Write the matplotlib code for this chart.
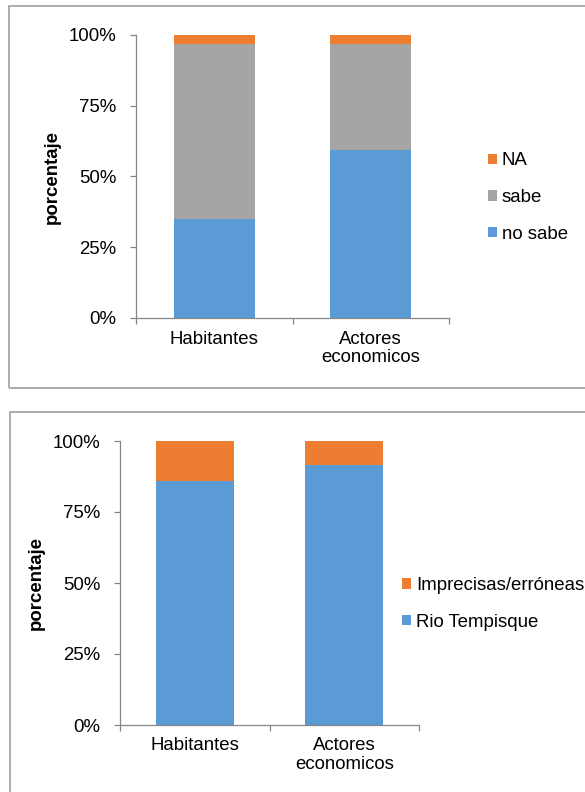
import numpy as np
import matplotlib
matplotlib.use("Agg")
import matplotlib.pyplot as plt
from matplotlib.patches import Rectangle
from matplotlib.ticker import PercentFormatter, FixedLocator

plt.rcParams['font.family'] = ['Liberation Sans', 'DejaVu Sans']

# data (percent)
categories = ['Habitantes', 'Actores\neconomicos']
no_sabe = [35.1, 59.4]
sabe = [61.8, 37.3]
na = [3.1, 3.3]

rio_tempisque = [85.9, 91.6]
imprecisas = [14.1, 8.4]

blue = '#5B9BD5'
orange = '#ED7D31'
gray = '#A5A5A5'
axis_col = '#868686'
fs = 13.4

W, H = 585, 792
fig = plt.figure(figsize=(W / 100, H / 100), dpi=100)

# outer boxes around each chart (no right edge visible in the reference)
def px_rect(x0, y0, x1, y1):
    return Rectangle((x0 / W, 1 - y1 / H), (x1 - x0) / W, (y1 - y0) / H,
                     transform=fig.transFigure, fill=False,
                     edgecolor='#A6A6A6', linewidth=1.3, clip_on=False)

fig.patches.append(px_rect(9, 6, 620, 388))
fig.patches.append(px_rect(10, 412, 620, 830))


def style_axes(ax):
    ax.set_xlim(-0.5, 1.5)
    ax.set_ylim(0, 100)
    for side in ['top', 'right']:
        ax.spines[side].set_visible(False)
    for side in ['left', 'bottom']:
        ax.spines[side].set_color(axis_col)
        ax.spines[side].set_linewidth(0.9)
    ax.yaxis.set_major_locator(FixedLocator([0, 25, 50, 75, 100]))
    ax.yaxis.set_major_formatter(PercentFormatter(decimals=0))
    ax.tick_params(axis='y', direction='out', length=4, width=0.9,
                   color=axis_col, labelsize=fs, pad=10)
    x = np.arange(len(categories))
    ax.set_xticks(x)
    ax.set_xticklabels(categories, fontsize=fs, linespacing=1.1)
    ax.tick_params(axis='x', which='major', length=0, pad=9)
    ax.xaxis.set_minor_locator(FixedLocator([-0.5, 0.5, 1.5]))
    ax.tick_params(axis='x', which='minor', direction='out', length=4,
                   width=0.9, color=axis_col)
    ax.set_ylabel('porcentaje', fontsize=fs, fontweight='bold', labelpad=6)


# top chart
ax1 = fig.add_axes([136 / W, 1 - 318 / H, 313 / W, 283 / H])
x = np.arange(len(categories))
bw = 0.52
b1 = ax1.bar(x, no_sabe, bw, color=blue, label='no sabe')
b2 = ax1.bar(x, sabe, bw, bottom=no_sabe, color=gray, label='sabe')
b3 = ax1.bar(x, na, bw, bottom=np.add(no_sabe, sabe), color=orange, label='NA')
style_axes(ax1)
ax1.legend([b3, b2, b1], ['NA', 'sabe', 'no sabe'], loc='center left',
           bbox_to_anchor=(488 / W, 1 - 197.5 / H), bbox_transform=fig.transFigure,
           frameon=False, fontsize=fs, handlelength=0.5, handleheight=0.5,
           handletextpad=0.25, labelspacing=1.05, borderpad=0, borderaxespad=0)

# bottom chart
ax2 = fig.add_axes([120 / W, 1 - 725 / H, 299 / W, 284 / H])
c1 = ax2.bar(x, rio_tempisque, bw, color=blue, label='Rio Tempisque')
c2 = ax2.bar(x, imprecisas, bw, bottom=rio_tempisque, color=orange,
             label='Imprecisas/erróneas')
style_axes(ax2)
ax2.legend([c2, c1], ['Imprecisas/erróneas', 'Rio Tempisque'], loc='center left',
           bbox_to_anchor=(402 / W, 1 - 604 / H), bbox_transform=fig.transFigure,
           frameon=False, fontsize=fs, handlelength=0.5, handleheight=0.5,
           handletextpad=0.25, labelspacing=1.05, borderpad=0, borderaxespad=0)

fig.savefig('out.png', dpi=100)
